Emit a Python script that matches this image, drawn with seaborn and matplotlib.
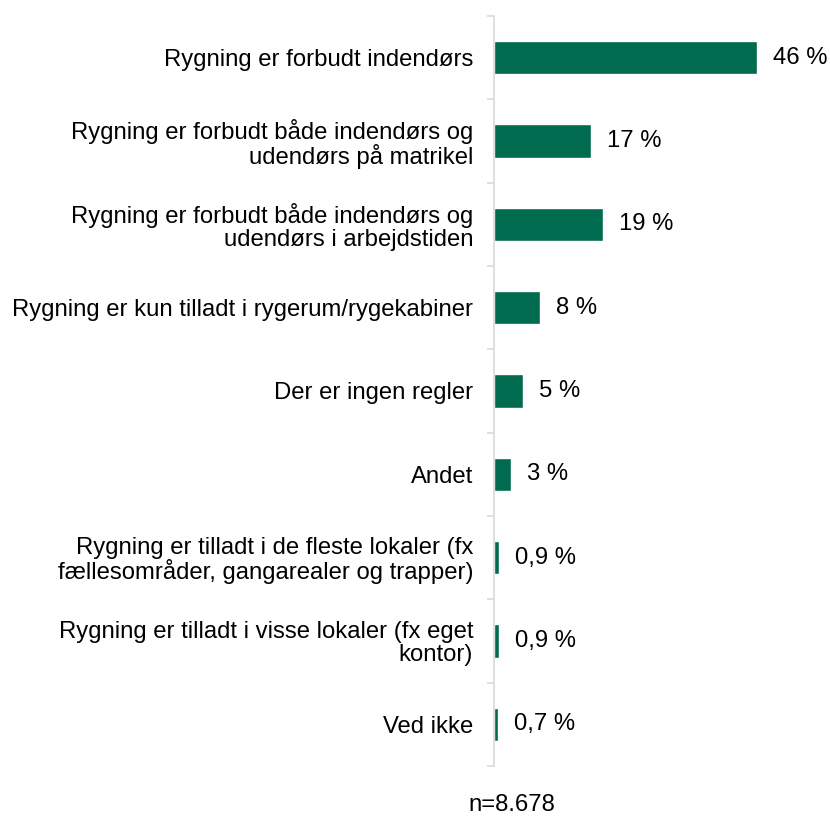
import pandas as pd
import seaborn as sns
import matplotlib.pyplot as plt
from matplotlib.ticker import FixedLocator

categories = [
    "Rygning er forbudt indendørs",
    "Rygning er forbudt både indendørs og\nudendørs på matrikel",
    "Rygning er forbudt både indendørs og\nudendørs i arbejdstiden",
    "Rygning er kun tilladt i rygerum/rygekabiner",
    "Der er ingen regler",
    "Andet",
    "Rygning er tilladt i de fleste lokaler (fx\nfællesområder, gangarealer og trapper)",
    "Rygning er tilladt i visse lokaler (fx eget\nkontor)",
    "Ved ikke",
]
values = [46, 17, 19, 8, 5, 3, 0.9, 0.9, 0.7]
labels = ["46 %", "17 %", "19 %", "8 %", "5 %", "3 %", "0,9 %", "0,9 %", "0,7 %"]

df = pd.DataFrame({"kategori": categories, "andel": values})

sns.set_theme(style="white")
plt.rcParams["font.family"] = ["Liberation Sans", "DejaVu Sans"]
plt.rcParams["text.color"] = "#000000"

W, H = 830, 823
FS = 17.2
fig = plt.figure(figsize=(W / 100, H / 100), dpi=100)
ax = fig.add_axes([494 / W, (H - 766) / H, 286 / W, 750 / H])

sns.barplot(data=df, x="andel", y="kategori", color="#006B4E", width=0.4,
            orient="h", ax=ax, saturation=1)

for bar, lab in zip(ax.patches, labels):
    ax.annotate(lab, (bar.get_width(), bar.get_y() + bar.get_height() / 2),
                xytext=(11.5, 0), textcoords="offset points", va="center",
                ha="left", fontsize=FS, color="#000000")

ax.set_xlim(0, 50)
ax.set_ylim(len(categories) - 0.5, -0.5)
ax.set_xlabel("")
ax.set_ylabel("")
ax.set_xticks([])
for s in ["top", "right", "bottom"]:
    ax.spines[s].set_visible(False)
ax.spines["left"].set_color("#d9d9d9")
ax.spines["left"].set_linewidth(1.2)

ax.yaxis.set_minor_locator(FixedLocator([i - 0.5 for i in range(len(categories) + 1)]))
ax.tick_params(axis="y", which="major", length=0, pad=15, labelsize=FS, labelcolor="#000000")
ax.tick_params(axis="y", which="minor", left=True, length=5, width=1.2, color="#d9d9d9")
for t in ax.get_yticklabels():
    t.set_linespacing(1.02)

fig.text(512 / W, 1 - 805 / H, "n=8.678", ha="center", va="center", fontsize=FS, color="#000000")

fig.savefig("out.png", dpi=100)
